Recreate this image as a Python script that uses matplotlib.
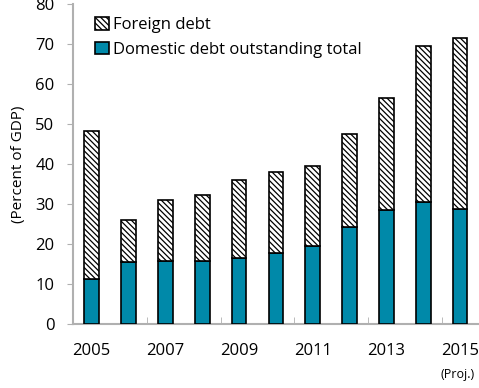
import matplotlib
matplotlib.use("Agg")
import matplotlib.pyplot as plt
import numpy as np

years = ["2005", "2006", "2007", "2008", "2009", "2010", "2011", "2012", "2013", "2014", "2015"]
domestic = [11.3, 15.5, 15.8, 15.8, 16.5, 17.8, 19.5, 24.3, 28.5, 30.4, 28.8]
total = [48.3, 26.0, 31.0, 32.2, 36.0, 38.0, 39.6, 47.4, 56.5, 69.5, 71.5]
foreign = [t - d for t, d in zip(total, domestic)]

plt.rcParams['font.family'] = ['Open Sans', 'DejaVu Sans']
plt.rcParams['hatch.linewidth'] = 0.9
plt.rcParams['hatch.color'] = '#404040'

fig = plt.figure(figsize=(4.79, 3.88), dpi=100)
ax = fig.add_axes([0.153, 0.165, 0.846, 0.825])

x = np.arange(len(years))
teal = "#0089A9"
b1 = ax.bar(x, domestic, width=0.4, color=teal, edgecolor="black", linewidth=1.2,
            label="Domestic debt outstanding total", zorder=3)
b2 = ax.bar(x, foreign, width=0.4, bottom=domestic, color="white", edgecolor="black",
            hatch="\\" * 6, linewidth=1.2, label="Foreign debt", zorder=3)

ax.set_xlim(-0.5, len(years) - 0.5)
ax.set_ylim(0, 80)
ax.set_yticks(range(0, 81, 10))
ax.tick_params(axis='y', length=4.5, color="#B0B0B0", labelsize=12, pad=9)
ax.set_xticks(x[::2])
ax.set_xticklabels(years[::2])
ax.tick_params(axis='x', length=0, labelsize=12, pad=14)
ax.set_xticks(np.arange(1.5, len(years) - 1, 2), minor=True)
ax.tick_params(axis='x', which='minor', length=5, color="#B0B0B0", direction='in')

for s in ["top", "right"]:
    ax.spines[s].set_visible(False)
for s in ["left", "bottom"]:
    ax.spines[s].set_color("#B0B0B0")
    ax.spines[s].set_linewidth(1.5)

ax.set_ylabel("(Percent of GDP)", fontsize=11, labelpad=7)

ax.legend(handles=[b2, b1], loc="upper left", bbox_to_anchor=(0.03, 0.99), frameon=False,
          fontsize=12, handlelength=0.8, handleheight=0.8, handletextpad=0.25,
          labelspacing=0.5, borderaxespad=0.2)

fig.text(0.99, 0.018, "(Proj.)", ha="right", va="bottom", fontsize=9)

fig.savefig("out.png", dpi=100)
